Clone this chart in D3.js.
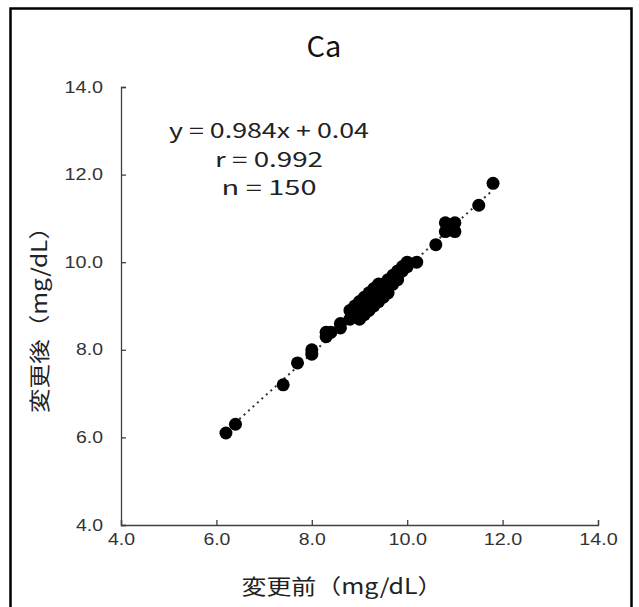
<!DOCTYPE html>
<html>
<head>
<meta charset="utf-8">
<script src="https://cdn.jsdelivr.net/npm/d3@7"></script>
<style>
  body { margin: 0; background: #fff; }
  svg { display: block; font-family: "Noto Sans CJK JP", "Noto Sans", sans-serif; }
</style>
</head>
<body>
<div id="my_dataviz"></div>
<script>
// values before / after the change (mg/dL)
var before = [6.2, 6.4, 7.4, 7.7, 8.0, 8.0, 8.3, 8.3, 8.4, 8.6, 8.6,
  8.8, 8.8, 8.9, 8.9, 8.9, 9.0, 9.0, 9.0, 9.0, 9.0,
  9.1, 9.1, 9.1, 9.1, 9.1, 9.2, 9.2, 9.2, 9.2, 9.2,
  9.3, 9.3, 9.3, 9.3, 9.3, 9.4, 9.4, 9.4, 9.4, 9.4,
  9.5, 9.5, 9.5, 9.5, 9.6, 9.6, 9.6, 9.6, 9.7, 9.7, 9.7,
  9.8, 9.8, 9.8, 9.9, 9.9, 10.0, 10.0, 10.2, 10.6,
  10.8, 10.8, 11.0, 11.0, 11.5, 11.8];
var after = [6.1, 6.3, 7.2, 7.7, 7.9, 8.0, 8.3, 8.4, 8.4, 8.5, 8.6,
  8.7, 8.9, 8.8, 8.9, 9.0, 8.7, 8.8, 8.9, 9.0, 9.1,
  8.8, 8.9, 9.0, 9.1, 9.2, 8.9, 9.0, 9.1, 9.2, 9.3,
  9.0, 9.1, 9.2, 9.3, 9.4, 9.1, 9.2, 9.3, 9.4, 9.5,
  9.2, 9.3, 9.4, 9.5, 9.3, 9.4, 9.5, 9.6, 9.5, 9.6, 9.7,
  9.6, 9.7, 9.8, 9.8, 9.9, 9.9, 10.0, 10.0, 10.4,
  10.7, 10.9, 10.7, 10.9, 11.3, 11.8];

var xTicks = [4, 6, 8, 10, 12, 14];
var yTicks = [4, 6, 8, 10, 12, 14];
var fitSlope = 0.984, fitIntercept = 0.04;
var fitRange = [6.2, 11.8];
var statLines = ["y = 0.984x + 0.04", "r = 0.992", "n = 150"];
var chartTitle = "Ca";
var xTitle = "変更前（mg/dL）";
var yTitle = "変更後（mg/dL）";

var W = 639, H = 607;
var margin = {top: 87, right: 41, bottom: 82, left: 121};
var width = W - margin.left - margin.right;
var height = H - margin.top - margin.bottom;

var svg = d3.select("#my_dataviz")
  .append("svg")
    .attr("width", W)
    .attr("height", H);

// outer frame
svg.append("rect")
  .attr("x", 10.5).attr("y", 8.5)
  .attr("width", 621).attr("height", 610)
  .attr("fill", "none")
  .attr("stroke", "#000")
  .attr("stroke-width", 2.5);

var g = svg.append("g")
  .attr("transform", "translate(" + margin.left + "," + margin.top + ")");

var x = d3.scaleLinear().domain([4, 14]).range([0, width]);
var y = d3.scaleLinear().domain([4, 14]).range([height, 0]);

// width of a tick label, the font draws wide digits
function labelLen(s) {
  var n = 0;
  for (var i = 0; i < s.length; i++) n += (s[i] === ".") ? 4 : 11.5;
  return n;
}

var xAxis = g.append("g")
  .attr("transform", "translate(0," + height + ")")
  .call(d3.axisBottom(x).tickValues(xTicks).tickSize(-5).tickPadding(9)
    .tickFormat(d3.format(".1f")));
var yAxis = g.append("g")
  .call(d3.axisLeft(y).tickValues(yTicks).tickSize(-5).tickPadding(18)
    .tickFormat(d3.format(".1f")));

[xAxis, yAxis].forEach(function(ax) {
  ax.select(".domain").attr("stroke", "#404040").attr("stroke-width", 1.3);
  ax.selectAll(".tick line").attr("stroke", "#404040").attr("stroke-width", 1.3);
  ax.selectAll(".tick text")
    .attr("fill", "#333")
    .style("font-size", "16px")
    .attr("textLength", function(d) { return labelLen(d3.format(".1f")(d)); })
    .attr("lengthAdjust", "spacingAndGlyphs");
});

// regression line
g.append("line")
  .attr("x1", x(fitRange[0])).attr("y1", y(fitSlope * fitRange[0] + fitIntercept))
  .attr("x2", x(fitRange[1])).attr("y2", y(fitSlope * fitRange[1] + fitIntercept))
  .attr("stroke", "#333")
  .attr("stroke-width", 2)
  .attr("stroke-dasharray", "2,4");

// points
g.append("g").selectAll("circle")
  .data(before.map(function(d, i) { return [d, after[i]]; }))
  .enter()
  .append("circle")
    .attr("cx", function(d) { return x(d[0]); })
    .attr("cy", function(d) { return y(d[1]); })
    .attr("r", 6.5)
    .attr("fill", "#000");

// title
svg.append("text")
  .attr("x", 324).attr("y", 57)
  .attr("text-anchor", "middle")
  .style("font-size", "29px")
  .attr("fill", "#111")
  .text(chartTitle);

// regression stats
var statWidths = [200, 108, 95];
svg.append("g").selectAll("text")
  .data(statLines)
  .enter()
  .append("text")
    .attr("x", 269)
    .attr("y", function(d, i) { return 138 + i * 28.5; })
    .attr("text-anchor", "middle")
    .style("font-size", "20px")
    .attr("fill", "#222")
    .attr("textLength", function(d, i) { return statWidths[i]; })
    .attr("lengthAdjust", "spacingAndGlyphs")
    .text(function(d) { return d; });

// axis titles
svg.append("text")
  .attr("x", 342).attr("y", 594)
  .attr("text-anchor", "middle")
  .style("font-size", "21px")
  .attr("fill", "#222")
  .attr("textLength", 201)
  .attr("lengthAdjust", "spacingAndGlyphs")
  .text(xTitle);

svg.append("text")
  .attr("transform", "translate(47,314) rotate(-90)")
  .attr("text-anchor", "middle")
  .style("font-size", "21px")
  .attr("fill", "#222")
  .attr("textLength", 198)
  .attr("lengthAdjust", "spacingAndGlyphs")
  .text(yTitle);
</script>
</body>
</html>
